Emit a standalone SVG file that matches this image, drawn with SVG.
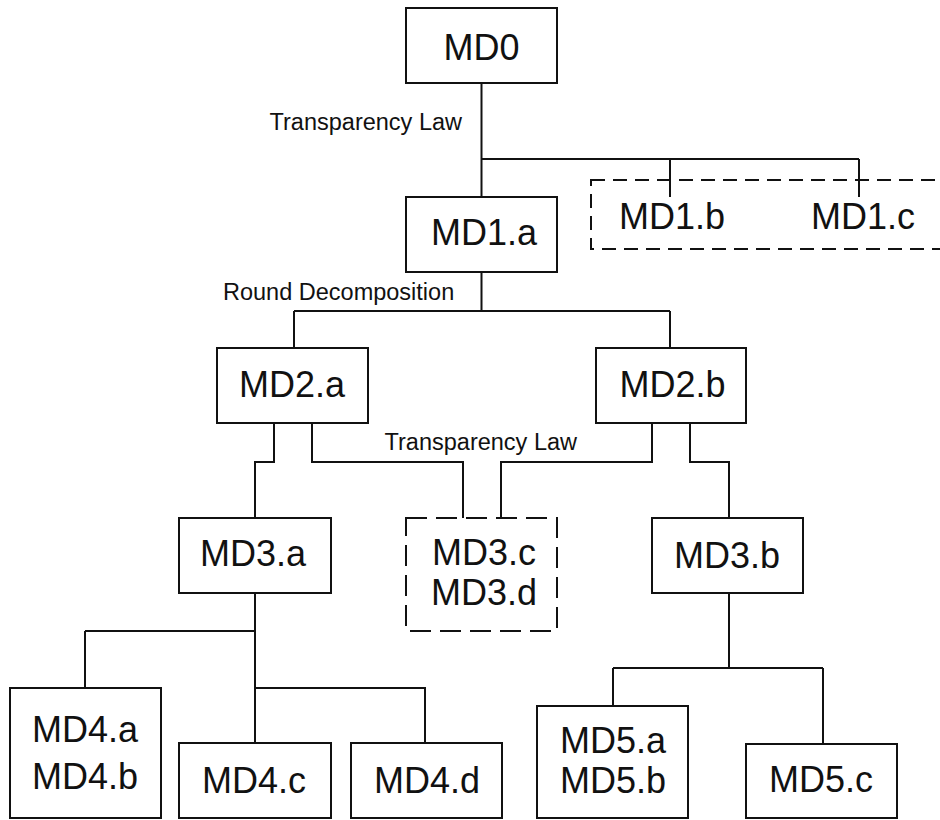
<svg xmlns="http://www.w3.org/2000/svg" width="940" height="820" viewBox="0 0 940 820">
  <style>
    .box { fill: #ffffff; stroke: #111111; stroke-width: 2; }
    .dash1 { fill: none; stroke: #111111; stroke-width: 2; stroke-dasharray: 14 8; }
    .dash3 { fill: none; stroke: #111111; stroke-width: 2; stroke-dasharray: 21 9; }
    .wire { fill: none; stroke: #111111; stroke-width: 2; }
    .node { font-family: "Liberation Sans", Arial, Helvetica, sans-serif; font-size: 36px; fill: #111111; text-anchor: middle; }
    .label { font-family: "Liberation Sans", Arial, Helvetica, sans-serif; font-size: 23.5px; fill: #111111; }
  </style>
  <rect width="940" height="820" fill="#ffffff"/>

  <!-- tree connectors -->
  <g id="connectors">
    <path class="wire" d="M481.5,83 V197"/>
    <path class="wire" d="M481.5,159 H859 M670,159 V197 M859,159 V197"/>
    <path class="wire" d="M481.5,272 V311 M294,311 H670 M294,311 V348 M670,311 V348"/>
    <path class="wire" d="M274,423 V462 H255 V518"/>
    <path class="wire" d="M312,423 V462 H463 V518"/>
    <path class="wire" d="M652,423 V462 H501 V518"/>
    <path class="wire" d="M690,423 V462 H729 V518"/>
    <path class="wire" d="M255,593 V743 M85,631 H255 M85,631 V688 M255,688 H425 V743"/>
    <path class="wire" d="M729,593 V668 M613,668 H823 M613,668 V706 M823,668 V744"/>
  </g>

  <!-- edge labels -->
  <g id="labels">
    <text class="label" x="462" y="130" text-anchor="end">Transparency Law</text>
    <text class="label" x="223" y="300">Round Decomposition</text>
    <text class="label" x="577" y="450" text-anchor="end">Transparency Law</text>
  </g>

  <g id="md0">
    <rect class="box" x="406" y="8" width="151" height="75"/>
    <text class="node" x="481.5" y="60">MD0</text>
  </g>

  <g id="md1a">
    <rect class="box" x="406" y="197" width="151" height="75"/>
    <text class="node" x="484" y="245">MD1.a</text>
  </g>

  <g id="md1bc">
    <rect class="dash1" x="591" y="180" width="352" height="69"/>
    <text class="node" x="672" y="229">MD1.b</text>
    <text class="node" x="863" y="229">MD1.c</text>
  </g>

  <g id="md2a">
    <rect class="box" x="217" y="348" width="151" height="75"/>
    <text class="node" x="292" y="397">MD2.a</text>
  </g>

  <g id="md2b">
    <rect class="box" x="596" y="348" width="150" height="75"/>
    <text class="node" x="672.5" y="397">MD2.b</text>
  </g>

  <g id="md3a">
    <rect class="box" x="179" y="518" width="152" height="75"/>
    <text class="node" x="253" y="566">MD3.a</text>
  </g>

  <g id="md3cd">
    <rect class="dash3" x="406" y="518" width="151" height="113"/>
    <text class="node" x="484" y="565">MD3.c</text>
    <text class="node" x="484" y="605">MD3.d</text>
  </g>

  <g id="md3b">
    <rect class="box" x="652" y="518" width="151" height="75"/>
    <text class="node" x="727" y="568">MD3.b</text>
  </g>

  <g id="md4ab">
    <rect class="box" x="10" y="688" width="151" height="130"/>
    <text class="node" x="85" y="742">MD4.a</text>
    <text class="node" x="85" y="789">MD4.b</text>
  </g>

  <g id="md4c">
    <rect class="box" x="179" y="743" width="152" height="75"/>
    <text class="node" x="254" y="793">MD4.c</text>
  </g>

  <g id="md4d">
    <rect class="box" x="351" y="743" width="151" height="75"/>
    <text class="node" x="427" y="793">MD4.d</text>
  </g>

  <g id="md5ab">
    <rect class="box" x="537" y="706" width="151" height="112"/>
    <text class="node" x="613" y="753">MD5.a</text>
    <text class="node" x="613" y="793">MD5.b</text>
  </g>

  <g id="md5c">
    <rect class="box" x="746" y="744" width="151" height="74"/>
    <text class="node" x="821" y="792">MD5.c</text>
  </g>
</svg>
